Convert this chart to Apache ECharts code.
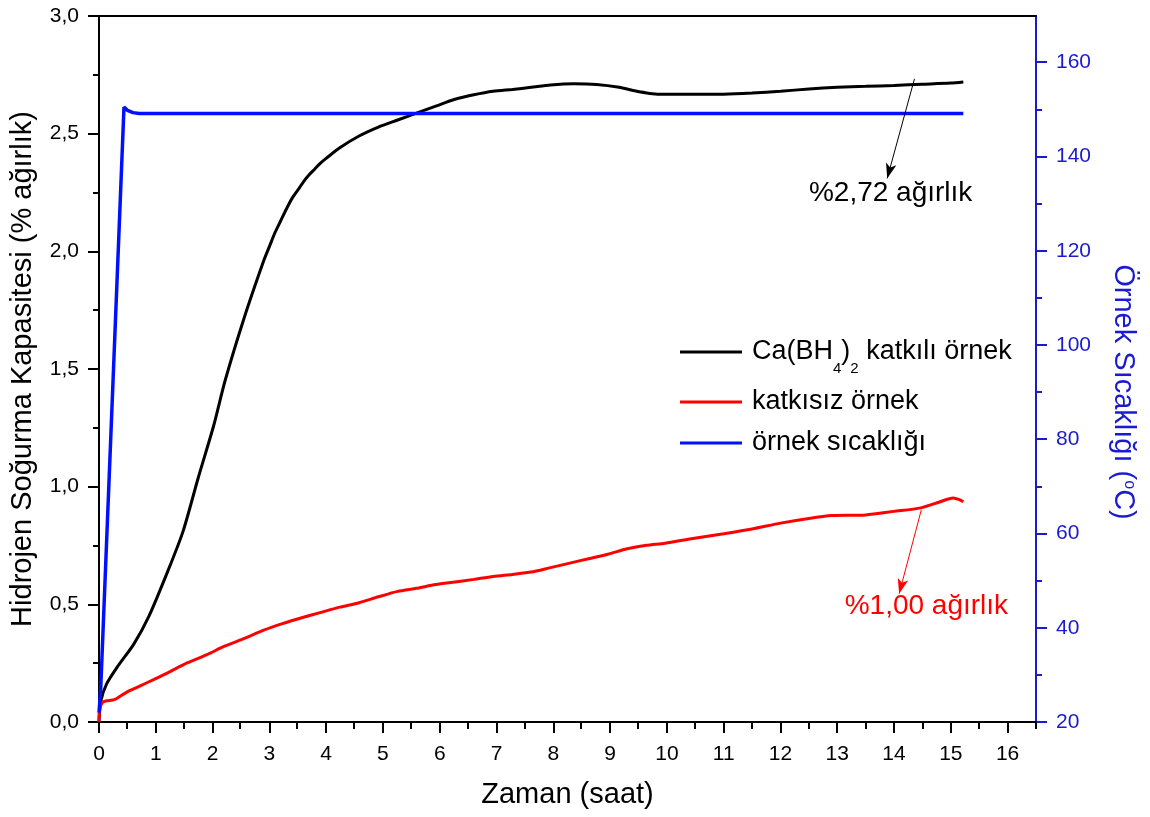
<!DOCTYPE html>
<html>
<head>
<meta charset="utf-8">
<script src="https://cdn.jsdelivr.net/npm/echarts@6/dist/echarts.min.js"></script>
<style>
html,body{margin:0;padding:0;background:#fff;}
#chart{width:1150px;height:817px;}
</style>
</head>
<body>
<div id="chart"></div>
<script>
// zaman (saat) - kapasite (% ağırlık)
const dopedX=[0,0.03,0.13,0.34,0.61,0.88,1.21,1.48,1.75,2.02,2.22,2.56,2.9,3.0,3.1,3.2,3.3,3.4,3.5,3.6,3.7,3.8,3.9,4.0,4.24,4.58,4.92,5.26,5.59,5.93,6.27,6.6,6.94,7.28,7.61,7.95,8.36,8.76,9.16,9.43,9.7,9.97,10.43,11,11.5,12,12.5,13,13.5,14,14.5,15,15.22];
const dopedY=[0,0.086,0.16,0.24,0.33,0.45,0.64,0.81,1.04,1.26,1.45,1.72,1.96,2.02,2.08,2.13,2.18,2.225,2.26,2.295,2.325,2.35,2.375,2.395,2.44,2.49,2.528,2.558,2.587,2.617,2.646,2.665,2.68,2.688,2.697,2.707,2.712,2.709,2.697,2.682,2.671,2.667,2.667,2.668,2.673,2.68,2.69,2.697,2.701,2.705,2.71,2.715,2.72];

const pureX=[0,0.01,0.07,0.27,0.4,0.54,0.88,1.21,1.55,1.89,2.22,2.56,2.9,3.23,3.57,3.91,4.24,4.58,4.92,5.26,5.59,5.93,6.27,6.6,6.94,7.28,7.61,7.95,8.29,8.62,8.96,9.3,9.64,9.97,10.43,11,11.5,12,12.5,12.9,13.5,14,14.47,14.8,15.04,15.15,15.22];
const pureY=[0,0.05,0.085,0.095,0.114,0.133,0.171,0.209,0.251,0.285,0.323,0.355,0.39,0.418,0.443,0.466,0.488,0.507,0.532,0.555,0.568,0.584,0.595,0.606,0.618,0.627,0.637,0.656,0.675,0.694,0.713,0.736,0.751,0.76,0.779,0.8,0.82,0.845,0.865,0.877,0.88,0.895,0.91,0.935,0.952,0.945,0.936];

// örnek sıcaklığı (°C)
const tempX=[0,0.03,0.44,0.5,0.6,0.71,15.22];
const tempY=[22,27,150.5,149.8,149.3,149.1,149.1];

const names=['Ca(BH4)2 katkılı örnek','katkısız örnek','örnek sıcaklığı'];
const xTicks=[0,1,2,3,4,5,6,7,8,9,10,11,12,13,14,15,16];
const xMinor=[0.5,1.5,2.5,3.5,4.5,5.5,6.5,7.5,8.5,9.5,10.5,11.5,12.5,13.5,14.5,15.5,16.5];
const tempTicks=[20,40,60,80,100,120,140,160];
const tempMinor=[30,50,70,90,110,130,150];
const notes=['%2,72 ağırlık','%1,00 ağırlık'];

const pairs=(xs,ys)=>xs.map((x,i)=>[x,ys[i]]);
const font='"Liberation Sans", Arial, sans-serif';
const blue='#0010ff', axisBlue='#1a1ad0';
const box={left:98,right:114,top:16,bottom:95};

const chart=echarts.init(document.getElementById('chart'));
const xBase={type:'value',min:0,max:16.5,splitLine:{show:false}};
const tempBase={type:'value',min:20,max:169.8,position:'right',splitLine:{show:false}};

chart.setOption({
  animation:false,
  textStyle:{fontFamily:font},
  grid:[box,{...box}],
  legend:{
    orient:'vertical',left:680,top:333,padding:0,itemGap:11,
    itemWidth:62,itemHeight:3,icon:'rect',
    data:names,
    textStyle:{fontSize:27,color:'#000',lineHeight:30,fontFamily:font,padding:[0,0,0,5],
      rich:{
        a:{fontSize:27,lineHeight:38,verticalAlign:'middle',fontFamily:font,color:'#000'},
        s:{fontSize:15,lineHeight:10,verticalAlign:'top',padding:[28,0,0,0],fontFamily:font,color:'#000'}
      }},
    formatter:n=>n===names[0]?'{a|Ca(BH}{s|4}{a|)}{s|2}{a| katkılı örnek}':n
  },
  xAxis:[
    {...xBase,gridIndex:0,position:'bottom',
      name:'Zaman (saat)',nameLocation:'middle',nameGap:58,
      nameTextStyle:{fontSize:29,color:'#000',fontFamily:font},
      axisLine:{onZero:false,lineStyle:{color:'#000',width:2}},
      axisTick:{customValues:xTicks,length:11,lineStyle:{width:2,color:'#000'}},
      axisLabel:{customValues:xTicks,fontSize:21,color:'#000',margin:22}},
    {...xBase,gridIndex:0,position:'top',
      axisLine:{onZero:false,lineStyle:{color:'#000',width:2}},
      axisTick:{show:false},axisLabel:{show:false}},
    {...xBase,gridIndex:1,position:'bottom',
      axisLine:{show:false,onZero:false},
      axisTick:{customValues:xMinor,length:7,lineStyle:{width:2,color:'#000'}},
      axisLabel:{show:false}}
  ],
  yAxis:[
    {type:'value',gridIndex:0,min:0,max:3,interval:0.5,position:'left',
      name:'Hidrojen Soğurma Kapasitesi (% ağırlık)',nameLocation:'middle',nameGap:62,
      nameTextStyle:{fontSize:29,color:'#000',fontFamily:font},
      axisLine:{show:true,onZero:false,lineStyle:{color:'#000',width:2}},
      axisTick:{show:true,length:11,lineStyle:{width:2,color:'#000'}},
      minorTick:{show:true,splitNumber:2,length:6,lineStyle:{width:2,color:'#000'}},
      axisLabel:{fontSize:21,color:'#000',margin:20,formatter:v=>v.toFixed(1).replace('.',',')},
      splitLine:{show:false}},
    {...tempBase,gridIndex:0,
      name:'Örnek Sıcaklığı ({o|o}C)',nameLocation:'middle',nameGap:72,nameRotate:-90,
      nameTextStyle:{fontSize:29,color:axisBlue,fontFamily:font,padding:[0,0,0,46],
        rich:{o:{fontSize:16,color:axisBlue,verticalAlign:'top',lineHeight:16,padding:[0,0,14,0]}}},
      axisLine:{show:true,onZero:false,lineStyle:{color:axisBlue,width:2}},
      axisTick:{show:true,customValues:tempTicks,length:11,lineStyle:{width:2,color:axisBlue}},
      axisLabel:{customValues:tempTicks,fontSize:21,color:axisBlue,margin:20}},
    {...tempBase,gridIndex:1,
      axisLine:{show:false,onZero:false},
      axisTick:{show:true,customValues:tempMinor,length:6,lineStyle:{width:2,color:axisBlue}},
      axisLabel:{show:false}}
  ],
  series:[
    {name:names[0],type:'line',data:pairs(dopedX,dopedY),xAxisIndex:0,yAxisIndex:0,
      showSymbol:false,smooth:0.25,lineStyle:{color:'#000',width:3},itemStyle:{color:'#000'},
      markLine:{silent:true,symbol:['none','arrow'],symbolSize:[8,15],
        lineStyle:{color:'#000',width:1,type:'solid'},label:{show:false},
        data:[[{coord:[14.36,2.733]},{coord:[13.88,2.31]}]]},
      markPoint:{silent:true,symbol:'circle',symbolSize:0,
        label:{show:true,position:'inside',fontSize:28,color:'#000',fontFamily:font,formatter:notes[0]},
        data:[{coord:[13.94,2.248]}]}},
    {name:names[1],type:'line',data:pairs(pureX,pureY),xAxisIndex:0,yAxisIndex:0,
      showSymbol:false,smooth:0.25,lineStyle:{color:'#ff0000',width:3},itemStyle:{color:'#ff0000'},
      markLine:{silent:true,symbol:['none','arrow'],symbolSize:[8,15],
        lineStyle:{color:'#ff0000',width:1,type:'solid'},label:{show:false},
        data:[[{coord:[14.48,0.901]},{coord:[14.09,0.545]}]]},
      markPoint:{silent:true,symbol:'circle',symbolSize:0,
        label:{show:true,position:'inside',fontSize:28,color:'#ff0000',fontFamily:font,formatter:notes[1]},
        data:[{coord:[14.57,0.493]}]}},
    {name:names[2],type:'line',data:pairs(tempX,tempY),xAxisIndex:0,yAxisIndex:1,
      showSymbol:false,lineStyle:{color:blue,width:3.5},itemStyle:{color:blue}}
  ]
});
</script>
</body>
</html>
